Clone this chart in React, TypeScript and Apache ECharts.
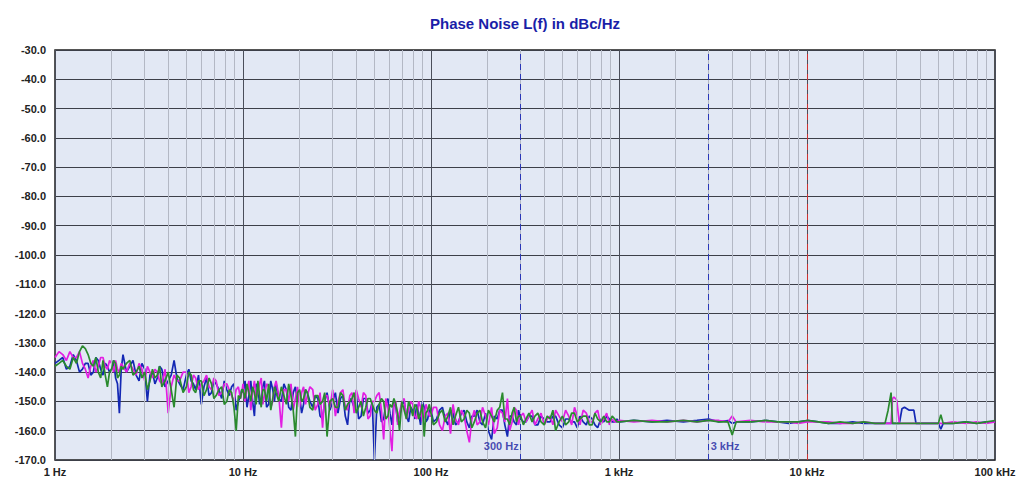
import React, { useEffect, useRef } from "react";
import * as echarts from "echarts";

// Frequency grids (Hz)
const freqA = [1.0, 1.1, 1.2, 1.3, 1.4, 1.5, 1.6, 1.7, 1.8, 1.9, 2.0, 2.1, 2.2, 2.3, 2.5, 2.7, 2.9, 3.1, 3.3, 3.5, 3.7, 4.0, 4.3, 4.6, 5.0, 5.3, 5.6, 6.0, 6.4, 6.8, 7.2, 7.7, 8.2, 8.7, 9.2, 9.7];
const freqA2 = [1.05, 1.15, 1.25, 1.35, 1.45, 1.55, 1.65, 1.75, 1.85, 1.95, 2.05, 2.15, 2.25, 2.4, 2.6, 2.8, 3.0, 3.2, 3.4, 3.6, 3.85, 4.15, 4.45, 4.8, 5.15, 5.45, 5.8, 6.2, 6.6, 7.0, 7.45, 7.95, 8.45, 8.95, 9.45, 9.85];
const freqB = [10, 10.5, 11, 11.5, 12, 12.5, 13, 13.7, 14.4, 15, 16, 17, 18, 19, 20, 21, 22, 23.5, 25, 26.5, 28, 30, 32, 34, 36, 38, 40, 42.5, 45, 47.5, 50, 53, 56, 59, 62, 65, 68, 72, 76, 80, 84, 88, 92, 96];
const freqB2 = [10.25, 10.75, 11.25, 11.75, 12.25, 12.75, 13.35, 14.05, 14.7, 15.5, 16.5, 17.5, 18.5, 19.5, 20.5, 21.5, 22.7, 24.2, 25.7, 27.2, 29, 31, 33, 35, 37, 39, 41.2, 43.7, 46.2, 48.7, 51.5, 54.5, 57.5, 60.5, 63.5, 66.5, 70, 74, 78, 82, 86, 90, 94, 98];
const freqC = [100, 107, 115, 123, 131, 140, 150, 160, 170, 182, 195, 210, 225, 240, 255, 270, 285, 300, 320, 345, 370, 400, 430, 460, 500, 540, 580, 620, 670, 720, 770, 830, 890, 950];
const freqC2 = [103, 111, 119, 127, 135, 145, 155, 165, 176, 188, 202, 217, 232, 247, 262, 277, 292, 310, 332, 357, 385, 415, 445, 480, 520, 560, 600, 645, 695, 745, 800, 860, 920, 975];
const freqD = [1000, 1200, 1500, 1800, 2200, 2600, 3000, 3400, 3800, 4000, 4200, 5000, 6000, 7000, 8000, 9000, 10000, 11500, 13000, 15000, 17500, 20000, 23000, 26000, 27000, 28000, 28500, 29000, 30000, 31000, 32000, 33000, 35000, 37000, 38000, 40000, 45000, 50000, 51500, 53000, 60000, 70000, 80000, 90000, 100000];

// Blue trace (dBc/Hz)
const blueA = [-137, -135, -138, -136, -139, -137, -140, -136, -141, -138, -139, -142, -154, -134, -138, -141, -137, -150, -140, -142, -139, -143, -136, -144, -141, -143, -146, -151, -142, -147, -144, -149, -146, -145, -153, -148];
const blueA2 = [-136, -139, -134, -140, -137, -141, -135, -139, -137, -140, -136, -144, -139, -140, -136, -143, -139, -141, -144, -138, -145, -141, -142, -146, -139, -144, -141, -145, -148, -143, -146, -143, -148, -144, -150, -146];
const blueB = [-147, -152, -143, -155, -145, -149, -143, -151, -146, -144, -150, -146, -153, -145, -148, -151, -147, -152, -149, -156, -147, -150, -154, -148, -158, -150, -147, -155, -149, -153, -170, -151, -156, -149, -158, -152, -155, -150, -157, -153, -151, -158, -152, -156];
const blueB2 = [-143, -148, -150, -144, -151, -145, -152, -143, -150, -149, -144, -152, -147, -150, -154, -146, -150, -148, -155, -150, -153, -147, -149, -155, -149, -152, -156, -149, -154, -150, -152, -157, -151, -154, -150, -157, -151, -155, -152, -156, -154, -150, -157, -153];
const blueC = [-153, -156, -152, -158, -154, -157, -153, -159, -155, -157, -154, -163, -156, -153, -162, -155, -158, -156, -157, -155, -158, -156, -157, -155, -159, -156, -157, -155, -158, -156, -159, -157, -156, -157];
const blueC2 = [-157, -153, -156, -153, -158, -154, -157, -155, -153, -158, -160, -155, -153, -158, -155, -157, -153, -157, -155, -158, -155, -157, -155, -158, -156, -157, -159, -157, -155, -158, -156, -155, -157, -156];
const blueD = [-157, -156.5, -157, -156.5, -157, -156.5, -156, -157, -156.5, -157.5, -157, -157, -156.5, -157, -157.5, -157, -156.5, -157, -157.5, -157.5, -157, -157.5, -157.5, -157.5, -157.5, -157.5, -157.5, -157.5, -157.5, -157.5, -152.5, -152, -153, -153, -157.5, -157.5, -157.5, -157.5, -159.5, -157.5, -157.5, -157, -157.5, -157, -157];

// Magenta trace
const magentaA = [-135, -134, -133, -135, -137, -142, -136, -138, -135, -139, -137, -136, -140, -138, -137, -141, -139, -138, -142, -140, -144, -154, -141, -143, -140, -145, -142, -144, -141, -146, -143, -147, -144, -148, -146, -149];
const magentaA2 = [-133, -136, -135, -133, -139, -138, -140, -135, -138, -136, -140, -139, -137, -140, -139, -137, -143, -140, -139, -143, -139, -145, -143, -140, -147, -141, -146, -143, -145, -142, -148, -144, -146, -150, -145, -147];
const magentaB = [-144, -146, -153, -143, -147, -142, -148, -145, -150, -143, -159, -146, -144, -149, -152, -145, -148, -146, -151, -159, -148, -146, -150, -146, -153, -147, -146, -152, -148, -155, -150, -147, -163, -152, -167, -150, -154, -149, -153, -151, -156, -152, -155, -153];
const magentaB2 = [-150, -143, -147, -149, -144, -151, -144, -152, -145, -148, -146, -150, -153, -145, -147, -151, -145, -153, -147, -148, -152, -155, -147, -152, -148, -154, -149, -147, -156, -150, -148, -153, -149, -160, -151, -158, -150, -156, -150, -155, -150, -157, -151, -155];
const magentaC = [-155, -152, -160, -154, -151, -158, -155, -164, -153, -157, -155, -152, -159, -154, -149, -157, -153, -155, -157, -153, -156, -158, -155, -153, -157, -155, -152, -158, -154, -157, -153, -156, -158, -157];
const magentaC2 = [-152, -158, -155, -161, -156, -153, -160, -156, -158, -152, -158, -161, -153, -157, -160, -152, -158, -154, -155, -158, -154, -156, -158, -155, -153, -158, -155, -153, -157, -154, -158, -154, -156, -157];
const magentaD = [-156.5, -157, -156.5, -157, -156.5, -157, -156.5, -156.5, -157, -155, -157, -156.5, -157, -157, -157, -157.5, -157, -157, -157, -157.5, -157.5, -157, -157.5, -157.5, -157.5, -157.5, -149, -148.5, -149.5, -157.5, -157.5, -157.5, -157.5, -157.5, -157.5, -157.5, -157.5, -157.5, -157.5, -157.5, -157, -157.5, -157, -157.5, -157];

// Green trace
const greenA = [-138, -136, -139, -137, -131, -134, -138, -140, -136, -145, -139, -137, -141, -139, -136, -140, -142, -146, -139, -141, -145, -140, -152, -142, -145, -141, -147, -143, -146, -144, -148, -145, -150, -147, -160, -149];
const greenA2 = [-137, -138, -135, -133, -132, -137, -135, -142, -141, -140, -136, -142, -138, -137, -141, -138, -140, -143, -142, -138, -143, -146, -141, -147, -140, -146, -143, -148, -142, -149, -146, -151, -146, -152, -148, -146];
const greenB = [-146, -144, -150, -147, -143, -152, -146, -144, -149, -147, -145, -151, -148, -162, -146, -149, -147, -153, -148, -150, -162, -149, -152, -148, -151, -149, -154, -150, -152, -149, -153, -151, -150, -155, -152, -151, -160, -153, -150, -155, -152, -154, -162, -153];
const greenB2 = [-149, -147, -145, -151, -148, -146, -150, -153, -145, -150, -148, -144, -153, -147, -150, -146, -152, -148, -151, -147, -150, -152, -147, -153, -150, -147, -152, -155, -149, -151, -154, -149, -156, -151, -149, -154, -150, -156, -152, -151, -156, -151, -154, -151];
const greenC = [-154, -157, -153, -155, -158, -152, -156, -154, -157, -153, -159, -155, -153, -147, -156, -154, -157, -155, -156, -157, -154, -158, -156, -160, -155, -157, -154, -156, -155, -158, -156, -155, -157, -156];
const greenC2 = [-158, -154, -157, -152, -155, -157, -153, -159, -154, -157, -153, -157, -152, -156, -158, -152, -155, -158, -154, -155, -157, -155, -153, -157, -158, -154, -157, -155, -158, -154, -157, -157, -155, -157];
const greenD = [-157, -156.5, -157, -157, -156.5, -157, -156.5, -157, -157, -161.5, -157, -157, -156.5, -157, -157, -157, -156.5, -157, -157.5, -157, -157.5, -157, -157.5, -157.5, -153, -147, -157.5, -157.5, -157.5, -157.5, -157.5, -157.5, -157.5, -157.5, -157.5, -157.5, -157.5, -157.5, -154.5, -157.5, -157.5, -157, -157.5, -157, -156.5];

// Axis / marker definitions
const decades = [1, 10, 100, 1000, 10000];
const multipliers = [2, 3, 4, 5, 6, 7, 8, 9];
const decadeLabels: Record<number, string> = { 1: "1 Hz", 10: "10 Hz", 100: "100 Hz", 1000: "1 kHz", 10000: "10 kHz", 100000: "100 kHz" };
const blueMarkers = [300, 3000];
const blueMarkerLabels = ["300 Hz", "3 kHz"];
const redMarkers = [10000];

const allFreq = [...freqA, ...freqA2, ...freqB, ...freqB2, ...freqC, ...freqC2, ...freqD];
const build = (vals: number[]) =>
  allFreq.map((f, i) => [f, vals[i]]).sort((a, b) => a[0] - b[0]);

const blue = build([...blueA, ...blueA2, ...blueB, ...blueB2, ...blueC, ...blueC2, ...blueD]);
const magenta = build([...magentaA, ...magentaA2, ...magentaB, ...magentaB2, ...magentaC, ...magentaC2, ...magentaD]);
const green = build([...greenA, ...greenA2, ...greenB, ...greenB2, ...greenC, ...greenC2, ...greenD]);

const minorTicks: number[] = [];
decades.forEach((d) => multipliers.forEach((m) => minorTicks.push(d * m)));

const FONT = "'Liberation Sans', Arial, sans-serif";

const option: any = {
  animation: false,
  backgroundColor: "#ffffff",
  title: {
    text: "Phase Noise L(f) in dBc/Hz",
    left: 520,
    top: 11,
    textAlign: "center",
    textStyle: { color: "#1a1ea8", fontSize: 15, fontWeight: "bold", fontFamily: FONT },
  },
  grid: {
    left: 55,
    right: 29,
    top: 50,
    bottom: 24,
    show: true,
    backgroundColor: "#e2e8f4",
    borderColor: "#1e1e1e",
    borderWidth: 1.5,
  },
  xAxis: {
    type: "log",
    logBase: 10,
    min: 1,
    max: 100000,
    axisLine: { show: false },
    axisTick: { show: false },
    axisLabel: {
      color: "#222",
      fontSize: 11,
      fontWeight: "bold",
      fontFamily: FONT,
      margin: 6,
      formatter: (v: number) => decadeLabels[Math.round(v)] ?? "",
    },
    splitLine: { show: true, lineStyle: { color: "#4a4e5a", width: 1 } },
  },
  yAxis: {
    type: "value",
    min: -170,
    max: -30,
    interval: 10,
    axisLine: { show: false },
    axisTick: { show: false },
    axisLabel: {
      color: "#222",
      fontSize: 11,
      fontWeight: "bold",
      fontFamily: FONT,
      margin: 9,
      formatter: (v: number) => v.toFixed(1),
    },
    splitLine: { show: true, lineStyle: { color: "#3c3f48", width: 1 } },
  },
  series: [
    {
      type: "line",
      name: "minor",
      data: [],
      silent: true,
      z: 1,
      markLine: {
        silent: true,
        symbol: "none",
        label: { show: false },
        lineStyle: { color: "#b3b8c4", type: "solid", width: 1 },
        data: minorTicks.map((t) => ({ xAxis: t })),
      },
    },
    {
      type: "line",
      name: "blue",
      data: blue,
      showSymbol: false,
      z: 3,
      lineStyle: { color: "#1428b4", width: 1.7 },
      itemStyle: { color: "#1428b4" },
    },
    {
      type: "line",
      name: "magenta",
      data: magenta,
      showSymbol: false,
      z: 4,
      lineStyle: { color: "#e21ee2", width: 1.7 },
      itemStyle: { color: "#e21ee2" },
    },
    {
      type: "line",
      name: "green",
      data: green,
      showSymbol: false,
      z: 5,
      lineStyle: { color: "#2a8a2e", width: 1.7 },
      itemStyle: { color: "#2a8a2e" },
    },
    {
      type: "line",
      name: "markers",
      data: [],
      silent: true,
      z: 6,
      markLine: {
        silent: true,
        symbol: "none",
        label: { show: false },
        data: [
          ...blueMarkers.map((m) => ({ xAxis: m, lineStyle: { color: "#2a36b8", type: [6, 4], width: 1 } })),
          ...redMarkers.map((m) => ({ xAxis: m, lineStyle: { color: "#d03030", type: [6, 4], width: 1 } })),
        ],
      },
    },
    {
      type: "scatter",
      name: "markerLabels",
      silent: true,
      symbolSize: 0,
      z: 7,
      data: [
        { value: [blueMarkers[0], -165.2], label: { position: "left", formatter: blueMarkerLabels[0], distance: 2 } },
        { value: [blueMarkers[1], -165.2], label: { position: "right", formatter: blueMarkerLabels[1], distance: 2 } },
      ],
      label: { show: true, color: "#1a22a0", fontSize: 11, fontWeight: "bold", fontFamily: FONT },
    },
  ],
};

export default function App() {
  const ref = useRef<HTMLDivElement>(null);
  useEffect(() => {
    document.body.style.margin = "0";
    const chart = echarts.init(ref.current!, null, { renderer: "svg" });
    chart.setOption(option);
    return () => chart.dispose();
  }, []);
  return <div ref={ref} style={{ width: 1024, height: 484 }} />;
}
